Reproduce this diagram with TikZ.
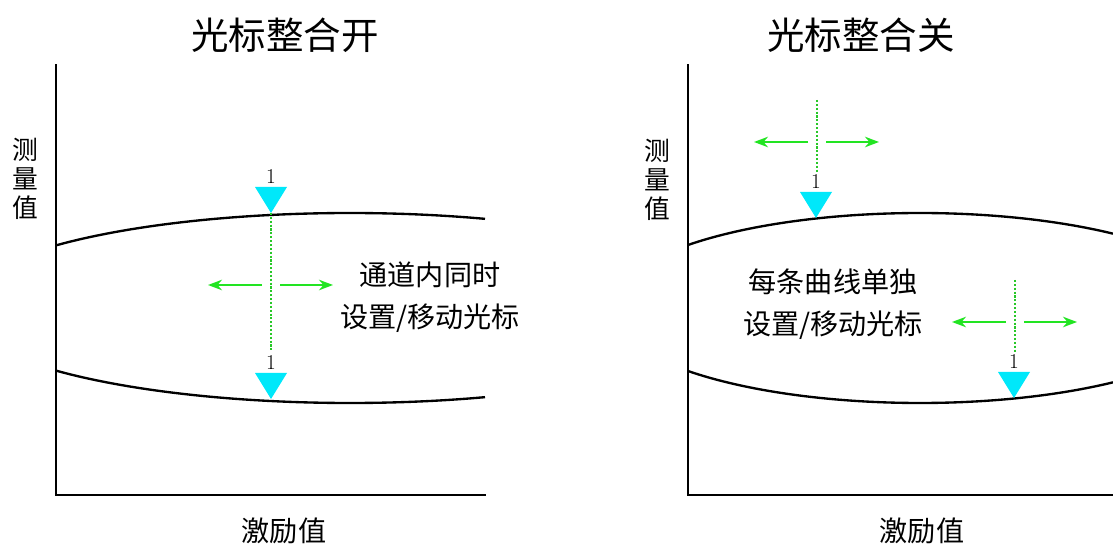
\documentclass[tikz,border=0pt]{standalone}
\usepackage{fontspec}
\newfontfamily\cjk{Noto Sans CJK SC}
\usepackage{tikz}
\usetikzlibrary{arrows.meta, positioning}
\usepackage{xcolor}
\definecolor{cursorcyan}{RGB}{0,232,250}
\definecolor{movegreen}{RGB}{34,228,34}
\definecolor{guidegreen}{RGB}{40,200,40}

\tikzset{
  axisline/.style={line width=2.4pt, line cap=rect},
  curveline/.style={line width=2pt},
  movearrow/.style={movegreen, line width=1.6pt, -{Stealth[length=12pt, width=9pt]}},
  guideline/.style={guidegreen, line width=1.1pt, dash pattern=on 1.8pt off 1.5pt},
  titletext/.style={font=\cjk\fontsize{32}{36}\selectfont},
  bodytext/.style={font=\cjk\fontsize{24}{36}\selectfont, align=center},
  ylabeltext/.style={font=\cjk\fontsize{22}{25}\selectfont, align=center},
  xlabeltext/.style={font=\cjk\fontsize{24}{28}\selectfont},
  numlbl/.style={font=\fontsize{18}{20}\selectfont, inner sep=0pt}
}

\begin{document}
\begin{tikzpicture}[x=0.03cm, y=-0.03cm]
  \useasboundingbox (0,0) rectangle (1113,544);

  % Titles
  \node[titletext] (titleon) at (285,35) {光标整合开};
  \node[titletext] (titleoff) at (861,35) {光标整合关};

  % Axes
  \coordinate (ltop) at (56,65);
  \coordinate (lorig) at (56,495);
  \coordinate (lend) at (485,495);
  \coordinate (rtop) at (688,65);
  \coordinate (rorig) at (688,495);
  \coordinate (rend) at (1113,495);
  \draw[axisline] (ltop) -- (lorig) -- (lend);
  \draw[axisline] (rtop) -- (rorig) -- (rend);

  \node[ylabeltext] (lmeas) at (25,179) {测\\量\\值};
  \node[ylabeltext] (rmeas) at (657,180) {测\\量\\值};
  \node[xlabeltext] (lexc) at (284,531) {激励值};
  \node[xlabeltext] (rexc) at (922,531) {激励值};

  % Curves
  \draw[curveline] plot[domain=69.8:138.8, samples=60] ({350+391*cos(\x)}, {308-95*sin(\x)});
  \draw[curveline] plot[domain=69.8:138.8, samples=60] ({350+391*cos(\x)}, {308+95*sin(\x)});
  \draw[curveline] plot[domain=51.5:138.4, samples=60] ({920+310*cos(\x)}, {308-95*sin(\x)});
  \draw[curveline] plot[domain=51.5:138.4, samples=60] ({920+310*cos(\x)}, {308+95*sin(\x)});

  % Cursor guides and move arrows
  \foreach \cx/\gtop/\gbot/\ay [count=\i] in {271/213/352/285, 817/100/172/142, 1015/280/352/322} {
    \coordinate (g\i a) at (\cx,\gtop);
    \coordinate (g\i b) at (\cx,\gbot);
    \draw[guideline] (g\i a) -- (g\i b);
    \coordinate (m\i l) at (\cx-9,\ay);
    \coordinate (m\i L) at (\cx-63,\ay);
    \coordinate (m\i r) at (\cx+9,\ay);
    \coordinate (m\i R) at (\cx+62,\ay);
    \draw[movearrow] (m\i l) -- (m\i L);
    \draw[movearrow] (m\i r) -- (m\i R);
  }

  % Cursor markers
  \foreach \cx/\tip [count=\i] in {271/213, 271/399, 816/218, 1014/398} {
    \fill[cursorcyan] (\cx-16,\tip-26) -- (\cx+16,\tip-26) -- (\cx,\tip) -- cycle;
    \node[numlbl] (num\i) at (\cx,\tip-36) {1};
  }

  % Notes
  \node[bodytext] (noteon) at (430,297) {通道内同时\\设置/移动光标};
  \node[bodytext] (noteoff) at (833,304) {每条曲线单独\\设置/移动光标};
\end{tikzpicture}
\end{document}
